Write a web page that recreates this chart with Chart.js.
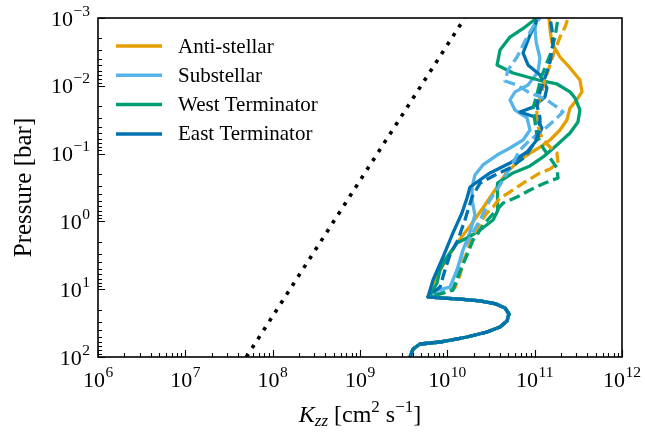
<!DOCTYPE html>
<html>
<head>
<meta charset="utf-8">
<script src="https://cdn.jsdelivr.net/npm/chart.js@4.4.1/dist/chart.umd.min.js"></script>
<style>
    html, body { margin: 0; padding: 0; background: #fff; }
    #wrap { width: 645px; height: 435px; position: relative; }
</style>
</head>
<body>
<div id="wrap"><canvas id="chart"></canvas></div>
<script>
// Deep part of the profiles, shared by every column (P in bar, Kzz in cm^2 s^-1)
const deepPressure = [100, 76.2, 64.3, 60.1, 50.7, 42.8, 36.1, 29.4, 23.2, 18.9, 16.5, 14.9, 14.0, 13.5, 13.0];
const deepKzz = [3.74e9, 4.05e9, 4.86e9, 8.24e9, 1.68e10, 2.84e10, 4.01e10, 4.82e10, 5.08e10, 4.57e10, 3.61e10, 2.37e10, 1.40e10, 8.93e9, 6.01e9];

// Upper atmosphere, solid lines
const antiPressure = [9.60, 6.61, 3.97, 2.08, 1.17, 0.573, 0.311, 0.187, 0.124, 0.0947, 0.0800, 0.0630, 0.0449, 0.0319, 0.0213, 0.0167, 0.0123, 0.0082, 0.00546, 0.00376, 0.00234, 0.00150, 0.001];
const antiKzz = [6.50e9, 7.42e9, 9.40e9, 1.29e10, 1.82e10, 2.70e10, 3.71e10, 4.82e10, 6.79e10, 9.33e10, 1.15e11, 1.50e11, 1.95e11, 2.34e11, 2.54e11, 2.98e11, 3.48e11, 3.30e11, 2.54e11, 1.95e11, 1.58e11, 1.50e11, 1.46e11];

const subPressure = [10.3, 9.29, 5.21, 2.64, 1.43, 0.805, 0.483, 0.311, 0.207, 0.147, 0.105, 0.0827, 0.063, 0.0449, 0.0298, 0.0228, 0.0162, 0.0123, 0.00973, 0.00625, 0.00389, 0.00226, 0.0015, 0.001];
const subKzz = [7.62e9, 1.07e10, 1.29e10, 1.51e10, 1.82e10, 2.07e10, 1.92e10, 1.92e10, 2.07e10, 2.56e10, 3.71e10, 5.22e10, 7.36e10, 8.85e10, 8.17e10, 5.96e10, 5.22e10, 5.96e10, 8.39e10, 1.09e11, 1.15e11, 1.04e11, 1.01e11, 1.06e11];

const westPressure = [11.0, 8.11, 5.21, 3.71, 2.08, 1.76, 1.34, 0.953, 0.679, 0.408, 0.272, 0.193, 0.152, 0.112, 0.0746, 0.0497, 0.0342, 0.0228, 0.0151, 0.0123, 0.0094, 0.00849, 0.00647, 0.00493, 0.00297, 0.00191, 0.00136, 0.001];
const westKzz = [6.68e9, 7.62e9, 8.24e9, 9.40e9, 1.29e10, 1.68e10, 2.37e10, 3.34e10, 3.80e10, 3.71e10, 3.80e10, 5.65e10, 8.85e10, 1.25e11, 1.80e11, 2.54e11, 3.13e11, 3.30e11, 2.90e11, 2.54e11, 1.80e11, 1.21e11, 5.65e10, 3.71e10, 4.01e10, 5.22e10, 7.76e10, 1.06e11];

const eastPressure = [7.31, 3.35, 1.48, 0.752, 0.452, 0.311, 0.193, 0.138, 0.0947, 0.0630, 0.0419, 0.0288, 0.0243, 0.0206, 0.0146, 0.0108, 0.00693, 0.00493, 0.00328, 0.00178, 0.001];
const eastKzz = [6.86e9, 8.93e9, 1.16e10, 1.47e10, 1.68e10, 1.82e10, 3.08e10, 5.22e10, 8.17e10, 1.06e11, 1.21e11, 1.01e11, 6.79e10, 9.57e10, 1.31e11, 1.38e11, 1.15e11, 8.39e10, 7.36e10, 8.85e10, 1.09e11];

// Upper atmosphere, dashed lines
const antiDashPressure = [11.4, 9.60, 6.18, 3.97, 2.83, 1.70, 1.06, 0.752, 0.614, 0.452, 0.368, 0.262, 0.193, 0.169, 0.138, 0.098, 0.080, 0.063, 0.0449, 0.0319, 0.0213, 0.0137, 0.0082, 0.00493, 0.00297, 0.00191, 0.00136, 0.001];
const antiDashKzz = [8.93e9, 1.22e10, 1.40e10, 1.51e10, 1.68e10, 1.92e10, 2.37e10, 2.84e10, 3.34e10, 4.01e10, 5.22e10, 7.76e10, 1.15e11, 1.50e11, 1.85e11, 1.80e11, 1.50e11, 1.25e11, 1.12e11, 1.06e11, 1.06e11, 1.18e11, 1.31e11, 1.50e11, 1.71e11, 1.95e11, 2.23e11, 2.41e11];

const subDashPressure = [11.0, 9.93, 6.61, 3.97, 2.64, 1.70, 0.953, 0.483, 0.290, 0.163, 0.0885, 0.0630, 0.0405, 0.0298, 0.0243, 0.0206, 0.0162, 0.0123, 0.00973, 0.00849, 0.00585, 0.00376, 0.00191, 0.00136, 0.001];
const subDashKzz = [8.93e9, 1.16e10, 1.29e10, 1.40e10, 1.51e10, 1.82e10, 2.37e10, 3.08e10, 4.01e10, 5.22e10, 6.79e10, 8.85e10, 1.38e11, 1.80e11, 2.11e11, 1.80e11, 1.38e11, 8.39e10, 6.28e10, 4.57e10, 4.95e10, 6.28e10, 8.17e10, 9.57e10, 1.15e11];

const westDashPressure = [11.4, 10.3, 6.61, 4.71, 3.13, 1.88, 1.59, 1.13, 0.805, 0.536, 0.437, 0.344, 0.272, 0.229, 0.163, 0.116, 0.0827, 0.0532, 0.0342, 0.0213, 0.0137, 0.00767, 0.00493, 0.00352, 0.00191, 0.00127, 0.001];
const westDashKzz = [8.93e9, 1.16e10, 1.32e10, 1.47e10, 1.68e10, 1.97e10, 2.19e10, 2.56e10, 3.25e10, 4.35e10, 6.28e10, 8.85e10, 1.31e11, 1.85e11, 1.80e11, 1.50e11, 1.25e11, 1.06e11, 1.01e11, 9.57e10, 1.06e11, 1.18e11, 1.35e11, 1.50e11, 1.71e11, 1.80e11, 1.85e11];

const eastDashPressure = [9.29, 5.21, 3.13, 1.88, 0.953, 0.437, 0.272, 0.207, 0.163, 0.112, 0.0675, 0.0449, 0.0298, 0.0192, 0.0123, 0.00767, 0.00445, 0.0025, 0.0015, 0.001];
const eastDashKzz = [8.24e9, 9.40e9, 1.07e10, 1.32e10, 1.59e10, 1.92e10, 2.37e10, 3.52e10, 5.22e10, 7.76e10, 1.01e11, 1.15e11, 1.15e11, 1.06e11, 1.15e11, 1.31e11, 1.50e11, 1.62e11, 1.58e11, 1.50e11];

// Reference Kzz ~ P^-1/2 (dotted)
const refPressure = [100, 1e-3];
const refKzz = [5e7, 1.58e10];

const seriesNames = ['Anti-stellar', 'Substellar', 'West Terminator', 'East Terminator'];
const seriesColors = ['#E69F00', '#56B4E9', '#009E73', '#0072B2'];

// Axis decades (tick labels are 10^n)
const xExponents = [6, 7, 8, 9, 10, 11, 12];
const yExponents = [-3, -2, -1, 0, 1, 2];

const FONT = "'Liberation Serif', 'Times New Roman', serif";

/**
 * Join the shared deep profile with one column's upper profile.
 */
function profile(kzz, pressure) {
    const pts = deepKzz.map((k, i) => ({ x: k, y: deepPressure[i] }));
    kzz.forEach((k, i) => pts.push({ x: k, y: pressure[i] }));
    return pts;
}

function lineSet(label, color, kzz, pressure, dashed) {
    return {
        label: label,
        data: profile(kzz, pressure),
        borderColor: color,
        borderWidth: 3.3,
        borderDash: dashed ? [11, 5] : [],
        borderJoinStyle: 'round',
        pointRadius: 0,
        showLine: true,
        fill: false
    };
}

const datasets = [
    {
        label: 'reference',
        data: refKzz.map((k, i) => ({ x: k, y: refPressure[i] })),
        borderColor: '#000',
        borderWidth: 3.6,
        borderDash: [3.6, 7],
        pointRadius: 0,
        showLine: true
    },
    lineSet(seriesNames[0], seriesColors[0], antiKzz, antiPressure, false),
    lineSet(seriesNames[1], seriesColors[1], subKzz, subPressure, false),
    lineSet(seriesNames[2], seriesColors[2], westKzz, westPressure, false),
    lineSet(seriesNames[3], seriesColors[3], eastKzz, eastPressure, false),
    lineSet(seriesNames[0], seriesColors[0], antiDashKzz, antiDashPressure, true),
    lineSet(seriesNames[1], seriesColors[1], subDashKzz, subDashPressure, true),
    lineSet(seriesNames[2], seriesColors[2], westDashKzz, westDashPressure, true),
    lineSet(seriesNames[3], seriesColors[3], eastDashKzz, eastDashPressure, true)
];
// later datasets drawn on top
datasets.forEach((d, i) => { d.order = datasets.length - i; });

/**
 * Draw "10" with a raised exponent. align: 'center' or 'right'.
 */
function drawPower(ctx, exp, x, baseline, align) {
    const expText = exp < 0 ? '\u2212' + Math.abs(exp) : String(exp);
    ctx.font = '22px ' + FONT;
    const wBase = ctx.measureText('10').width;
    ctx.font = '15.5px ' + FONT;
    const wExp = ctx.measureText(expText).width;
    const total = wBase + wExp + 0.5;
    const left = align === 'center' ? x - total / 2 : x - total;
    ctx.textAlign = 'left';
    ctx.textBaseline = 'alphabetic';
    ctx.font = '22px ' + FONT;
    ctx.fillText('10', left, baseline);
    ctx.font = '15.5px ' + FONT;
    ctx.fillText(expText, left + wBase + 0.5, baseline - 10);
}

// Frame, inward ticks, tick labels, axis titles and legend
const decorPlugin = {
    id: 'decor',
    afterDraw(chart) {
        const { ctx, chartArea: a, scales: { x, y } } = chart;
        ctx.save();
        ctx.fillStyle = '#000';
        ctx.strokeStyle = '#000';

        // ticks
        ctx.lineWidth = 1.1;
        ctx.beginPath();
        xExponents.forEach((e, i) => {
            const px = Math.round(x.getPixelForValue(Math.pow(10, e))) + 0.5;
            ctx.moveTo(px, a.bottom); ctx.lineTo(px, a.bottom - 7);
            if (i < xExponents.length - 1) {
                for (let m = 2; m <= 9; m++) {
                    const mx = Math.round(x.getPixelForValue(m * Math.pow(10, e))) + 0.5;
                    ctx.moveTo(mx, a.bottom); ctx.lineTo(mx, a.bottom - 4);
                }
            }
        });
        yExponents.forEach((e, i) => {
            const py = Math.round(y.getPixelForValue(Math.pow(10, e))) + 0.5;
            ctx.moveTo(a.left, py); ctx.lineTo(a.left + 7, py);
            if (i < yExponents.length - 1) {
                for (let m = 2; m <= 9; m++) {
                    const my = Math.round(y.getPixelForValue(m * Math.pow(10, e))) + 0.5;
                    ctx.moveTo(a.left, my); ctx.lineTo(a.left + 4, my);
                }
            }
        });
        ctx.stroke();

        // frame
        ctx.lineWidth = 1.6;
        ctx.strokeRect(a.left, a.top, a.right - a.left, a.bottom - a.top);

        // tick labels
        xExponents.forEach(e => {
            drawPower(ctx, e, x.getPixelForValue(Math.pow(10, e)), a.bottom + 30, 'center');
        });
        yExponents.forEach(e => {
            drawPower(ctx, e, a.left - 8, y.getPixelForValue(Math.pow(10, e)) + 7.5, 'right');
        });

        // y title
        ctx.save();
        ctx.translate(31, (a.top + a.bottom) / 2);
        ctx.rotate(-Math.PI / 2);
        ctx.font = '25px ' + FONT;
        ctx.textAlign = 'center';
        ctx.textBaseline = 'alphabetic';
        ctx.fillText('Pressure [bar]', 0, 0);
        ctx.restore();

        // x title: K_zz [cm^2 s^-1]
        const parts = [
            { t: 'K', f: 'italic 24px ' + FONT, dy: 0 },
            { t: 'zz', f: 'italic 17px ' + FONT, dy: 4 },
            { t: ' [cm', f: '24px ' + FONT, dy: 0 },
            { t: '2', f: '17px ' + FONT, dy: -10 },
            { t: ' s', f: '24px ' + FONT, dy: 0 },
            { t: '\u22121', f: '17px ' + FONT, dy: -10 },
            { t: ']', f: '24px ' + FONT, dy: 0 }
        ];
        let total = 0;
        parts.forEach(p => { ctx.font = p.f; p.w = ctx.measureText(p.t).width; total += p.w; });
        let cx = (a.left + a.right) / 2 - total / 2;
        const titleBase = 422;
        ctx.textAlign = 'left';
        parts.forEach(p => {
            ctx.font = p.f;
            ctx.fillText(p.t, cx, titleBase + p.dy);
            cx += p.w;
        });

        // legend (solid line handles)
        ctx.font = '21px ' + FONT;
        ctx.textBaseline = 'middle';
        ctx.lineWidth = 3.5;
        seriesNames.forEach((name, i) => {
            const ly = a.top + 28 + i * 29.3;
            ctx.strokeStyle = seriesColors[i];
            ctx.beginPath();
            ctx.moveTo(a.left + 18, ly);
            ctx.lineTo(a.left + 64, ly);
            ctx.stroke();
            ctx.fillStyle = '#000';
            ctx.fillText(name, a.left + 80, ly + 1);
        });
        ctx.restore();
    }
};

const chart = new Chart(document.getElementById('chart').getContext('2d'), {
    type: 'scatter',
    data: { datasets: datasets },
    options: {
        responsive: true,
        maintainAspectRatio: false,
        animation: false,
        events: [],
        layout: { padding: { left: 98, right: 23, top: 18, bottom: 78 } },
        plugins: {
            legend: { display: false },
            tooltip: { enabled: false }
        },
        scales: {
            x: { type: 'logarithmic', min: 1e6, max: 1e12, display: false },
            y: { type: 'logarithmic', min: 1e-3, max: 1e2, reverse: true, display: false }
        }
    },
    plugins: [decorPlugin]
});
</script>
</body>
</html>
